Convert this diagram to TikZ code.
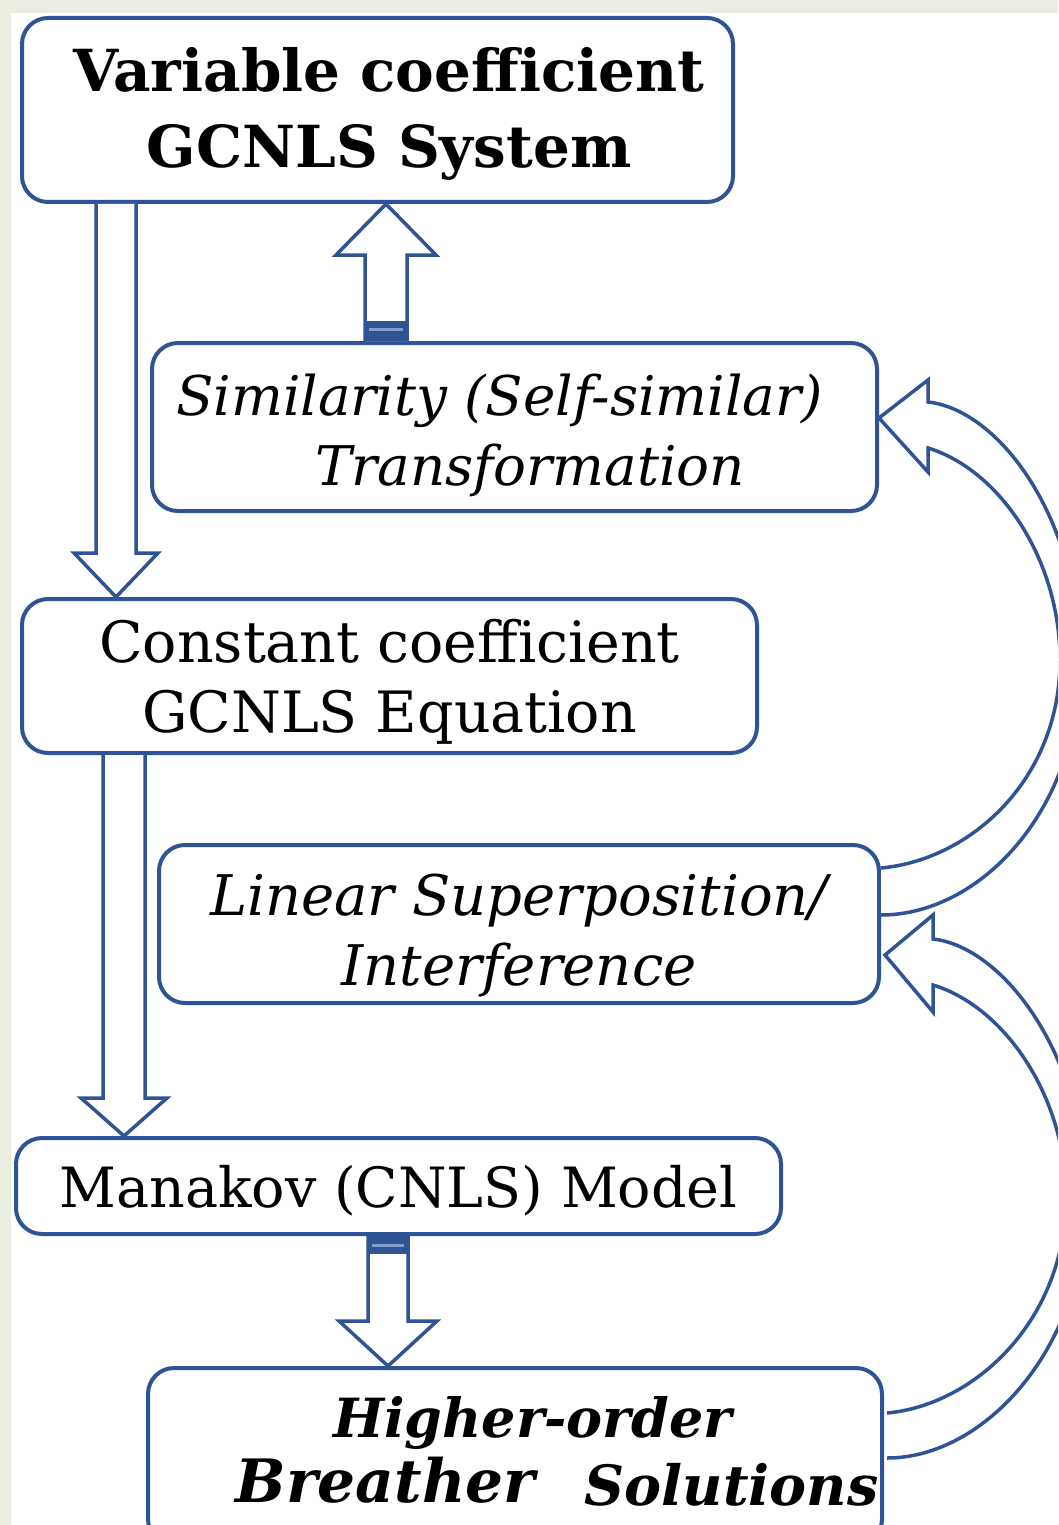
\documentclass[tikz,border=0pt]{standalone}
\usepackage{fontspec}
\setmainfont{DejaVu Serif}
\usetikzlibrary{calc}
\definecolor{boxblue}{RGB}{47,84,150}
\definecolor{pagetint}{RGB}{234,238,224}
\definecolor{bandblue}{RGB}{130,155,200}

\begin{document}
\begin{tikzpicture}[x=1pt,y=-1pt]
\tikzstyle{box}=[draw=boxblue, line width=4pt, rounded corners=26pt, inner sep=0pt, align=center]
\tikzstyle{fat}=[draw=boxblue, line width=3.5pt, fill=white, line join=miter]
\tikzstyle{band}=[bandblue, line width=3pt]
\clip (0,0) rectangle (1058,1525);
\fill[white] (0,0) rectangle (1058,1525);
\fill[pagetint] (0,0) rectangle (1058,13);
\fill[pagetint] (0,0) rectangle (11,1525);

\node[box, minimum width=711pt, minimum height=184pt, text height=118pt, text depth=2pt,
  font=\bfseries\fontsize{58}{76}\selectfont] (var) at (377.5,110)
  {\hspace*{23pt}Variable coefficient\\\hspace*{23pt}GCNLS System};
\node[box, minimum width=725pt, minimum height=168pt, text height=118pt, text depth=2pt,
  font=\itshape\fontsize{54.7}{70}\selectfont] (sim) at (514.5,427)
  {Similarity (Self-similar)\hspace*{30pt}\\\hspace*{31pt}Transformation};
\node[box, minimum width=735pt, minimum height=154pt, text height=114pt, text depth=2pt,
  font=\fontsize{57}{70}\selectfont] (con) at (389.5,676)
  {Constant coefficient\\GCNLS Equation};
\node[box, minimum width=720pt, minimum height=158pt, text height=124pt, text depth=2pt,
  font=\itshape\fontsize{56}{70}\selectfont] (lin) at (519,924)
  {Linear Superposition/\\Interference};
\node[box, minimum width=765pt, minimum height=96pt, text height=44pt, text depth=2pt,
  font=\fontsize{55.5}{70}\selectfont] (man) at (398.5,1186)
  {Manakov (CNLS) Model};
\node[box, minimum width=734pt, minimum height=177pt] (hig) at (515,1456.5) {};
\node[anchor=base, font=\bfseries\itshape\fontsize{54}{60}\selectfont] (higTop) at (532.5,1437) {Higher-order};
\node[anchor=base, font=\bfseries\itshape\fontsize{59.8}{60}\selectfont] (higLeft) at (385.5,1502) {Breather};
\node[anchor=base, font=\bfseries\itshape\fontsize{55.5}{60}\selectfont] (higRight) at (731.5,1505) {Solutions};

% straight block arrows
\coordinate (d1) at ([xshift=96pt]var.south west);
\draw[fat] ($(d1)+(-20,0)$) -- ($(d1|-con.north)+(-20,-44)$) -- ($(d1|-con.north)+(-42,-44)$) -- (d1|-con.north)
  -- ($(d1|-con.north)+(42,-44)$) -- ($(d1|-con.north)+(20,-44)$) -- ($(d1)+(20,0)$);

\coordinate (u1) at ([xshift=236pt]sim.north west);
\draw[fat] ($(u1)+(-21,0)$) -- ($(u1|-var.south)+(-21,51)$) -- ($(u1|-var.south)+(-50,51)$) -- (u1|-var.south)
  -- ($(u1|-var.south)+(50,51)$) -- ($(u1|-var.south)+(21,51)$) -- ($(u1)+(21,0)$);
\fill[boxblue] ($(u1)+(-21,-20)$) rectangle ($(u1)+(21,0)$);
\draw[band] ($(u1)+(-17,-12)$) -- ($(u1)+(17,-12)$);

\coordinate (d2) at ([xshift=104pt]con.south west);
\draw[fat] ($(d2)+(-21,0)$) -- ($(d2|-man.north)+(-21,-38)$) -- ($(d2|-man.north)+(-43,-38)$) -- (d2|-man.north)
  -- ($(d2|-man.north)+(43,-38)$) -- ($(d2|-man.north)+(21,-38)$) -- ($(d2)+(21,0)$);

\coordinate (d3) at ([xshift=374pt]man.south west);
\draw[fat] ($(d3)+(-20,0)$) -- ($(d3|-hig.north)+(-20,-45)$) -- ($(d3|-hig.north)+(-49,-45)$) -- (d3|-hig.north)
  -- ($(d3|-hig.north)+(49,-45)$) -- ($(d3|-hig.north)+(20,-45)$) -- ($(d3)+(20,0)$);
\fill[boxblue] ($(d3)+(-20,0)$) rectangle ($(d3)+(20,18)$);
\draw[band] ($(d3)+(-16,9)$) -- ($(d3)+(16,9)$);

% curved block arrows on the right
\coordinate (r1) at ($(lin.north east)+(0,25)$);
\coordinate (r2) at ($(lin.north east)+(0,72)$);
\coordinate (t1) at ($(sim.east)+(0,-9)$);
\draw[fat] (r1) .. controls (970,860) and (1060,780) .. (1060,660) .. controls (1060,560) and (1000,470) .. ($(t1)+(49,30)$)
  -- ($(t1)+(49,54)$) -- (t1) -- ($(t1)+(49,-38)$) -- ($(t1)+(49,-16)$)
  .. controls (1000,410) and (1080,520) .. (1080,662) .. controls (1080,810) and (980,915) .. (r2);

\coordinate (r3) at ($(hig.north east)+(3,47)$);
\coordinate (r4) at ($(hig.north east)+(3,92)$);
\coordinate (t2) at ($(lin.east)+(4,31)$);
\draw[fat] (r3) .. controls (975,1405) and (1066,1320) .. (1066,1197) .. controls (1066,1097) and (1005,1007) .. ($(t2)+(48,30)$)
  -- ($(t2)+(48,57)$) -- (t2) -- ($(t2)+(48,-40)$) -- ($(t2)+(48,-16)$)
  .. controls (1004,947) and (1086,1057) .. (1086,1199) .. controls (1086,1347) and (985,1458) .. (r4);
\end{tikzpicture}
\end{document}
